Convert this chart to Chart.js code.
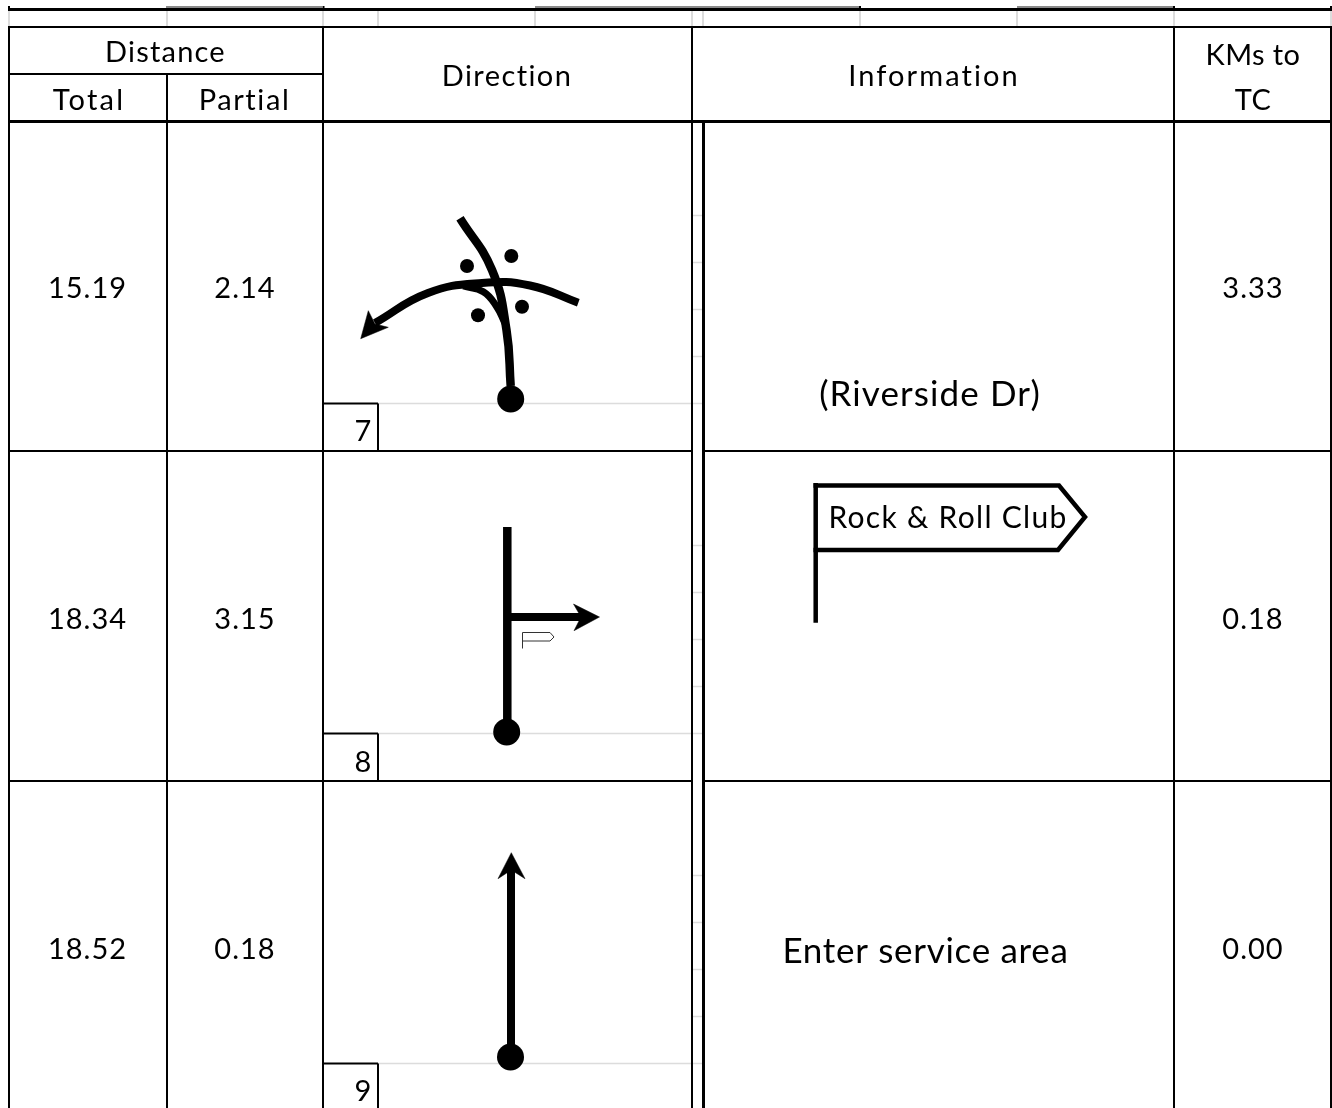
<!DOCTYPE html>
<html><head><meta charset="utf-8">
<style>html,body{margin:0;padding:0;background:#fff}canvas{display:block}</style>
<script src="https://cdn.jsdelivr.net/npm/chart.js@4/dist/chart.umd.min.js"></script>
</head><body><canvas id="c" width="1332" height="1108"></canvas>
<script>
// ---- values ----
const totalKm   = [15.19, 18.34, 18.52];
const partialKm = [2.14, 3.15, 0.18];
const kmsToTC   = [3.33, 0.18, 0.00];
const stepNo    = ['7', '8', '9'];
const infoNotes = ['(Riverside Dr)', '', 'Enter service area'];
const flagLabel = 'Rock & Roll Club';
const headers   = ['Distance', 'Total', 'Partial', 'Direction', 'Information', 'KMs to', 'TC'];

// ---- layout in axis units ----
const FONT = 'Lato, "Open Sans", sans-serif';
const rowMidY = [288.5, 619.5, 949.5];
const stepY = [432, 763, 1092];
const colMid = {total: 87.5, partial: 245, info: 933, kms: 1253};
const BLACK = '#000', LIGHT = '#dcdcdc', GRAY = '#8a8a8a';

const ds = [];
function line(pts, width, color, extra) {
  ds.push(Object.assign({
    data: pts.map(p => ({x: p[0], y: p[1]})),
    showLine: true, pointRadius: 0, borderWidth: width, borderColor: color || BLACK,
    borderCapStyle: 'butt', borderJoinStyle: 'miter', tension: 0, fill: false, clip: false,
    order: 5000 - ds.length
  }, extra || {}));
}
function curve(pts, width) { line(pts, width, BLACK, {tension: 0.45}); }
function poly(pts) { line(pts.concat([pts[0]]), 0.5, BLACK, {fill: 'shape', backgroundColor: BLACK}); }
function dots(pts, r) {
  ds.push({data: pts.map(p => ({x: p[0], y: p[1]})), showLine: false, pointRadius: r, pointHoverRadius: r,
    pointBorderWidth: 0, pointBackgroundColor: BLACK, clip: false, order: 5000 - ds.length});
}

// light spreadsheet gridlines above the table
[9, 167, 323, 378, 535, 692, 703, 860, 1017, 1174, 1331].forEach(x => line([[x, 10], [x, 27]], 2, LIGHT));
// thick grey selection bars on top line
[[166, 322], [535, 860], [1017, 1174]].forEach(s => line([[s[0], 7], [s[1], 7]], 2, GRAY));
// light lines in the rows
[403.5, 733.5, 1063.5].forEach(y => line([[378, y], [692, y]], 1.5, LIGHT));
[215.5, 262.5, 309.5, 356.5, 403.5, 545.5, 592.5, 639.5, 686.5, 733.5, 875.5, 922.5, 969.5, 1016.5, 1063.5]
  .forEach(y => line([[693, y], [703, y]], 1.5, LIGHT));

// black table rules
line([[8, 9.5], [1332, 9.5]], 3, BLACK);
[[9, 6, 10], [323.5, 6, 10], [860, 6, 10], [1174, 6, 10], [1331, 6, 10]].forEach(t => line([[t[0], t[1]], [t[0], t[2]]], 2, BLACK));
line([[8, 27], [1332, 27]], 2, BLACK);
line([[8, 74], [323, 74]], 2, BLACK);
line([[8, 121.5], [1332, 121.5]], 3, BLACK);
line([[8, 451], [692, 451]], 2, BLACK); line([[703, 451], [1332, 451]], 2, BLACK);
line([[8, 781], [692, 781]], 2, BLACK); line([[703, 781], [1332, 781]], 2, BLACK);
line([[9, 27], [9, 1108]], 2, BLACK);
line([[167, 74], [167, 1108]], 2, BLACK);
line([[323, 27], [323, 1108]], 2, BLACK);
line([[692, 27], [692, 1108]], 2, BLACK);
line([[703.5, 121], [703.5, 1108]], 3, BLACK);
line([[1174, 27], [1174, 1108]], 2, BLACK);
line([[1331, 27], [1331, 1108]], 2, BLACK);
// step number boxes
[[403.5, 451], [733.5, 781], [1063.5, 1108]].forEach(b => {
  line([[323, b[0]], [378, b[0]]], 2, BLACK);
  line([[378, b[0]], [378, b[1]]], 2, BLACK);
});

// step 7 : roundabout
curve([[510.7, 386], [506.5, 330], [492, 270], [460, 218.3]], 8.5);
curve([[578.3, 302.7], [530, 285.5], [482, 283], [428, 293], [375, 323]], 8);
curve([[463.3, 286], [483.3, 291.7], [496.7, 306.7], [505, 323.3]], 7);
poly([[360.7, 338.7], [368.3, 310.7], [375, 324], [388.3, 327.3]]);
dots([[467, 266], [511.3, 256], [522, 306.7], [478, 315.3]], 7);
dots([[510.7, 399]], 13.5);

// step 8 : side turn
line([[507.3, 527], [507.3, 725]], 8.5);
line([[510, 617], [582, 617]], 8);
poly([[599.5, 617], [573.5, 604], [581, 617], [574, 630.7]]);
dots([[506.7, 732]], 13.5);
line([[522.5, 648.5], [522.5, 632.5], [550, 632.5], [554, 637], [550, 641], [522.5, 641]], 1, '#333');
// flag sign
line([[815.7, 483], [815.7, 622.7]], 4.5);
line([[813.5, 485.5], [1059, 485.5], [1085, 517], [1058, 550], [813.5, 550]], 4.5);

// step 9 : straight on
line([[511, 868], [511, 1050]], 8);
poly([[511.3, 852.7], [498, 878.7], [511.3, 870], [525, 878.7]]);
dots([[510.5, 1057]], 13.5);

const textPlugin = {
  id: 'cellText',
  afterDatasetsDraw(chart) {
    const {ctx, scales: {x, y}} = chart;
    const put = (s, vx, vy, size, sp) => {
      if (!s) return;
      ctx.font = size + 'px ' + FONT;
      ctx.letterSpacing = (sp || 0) + 'px';
      ctx.fillStyle = '#000'; ctx.textAlign = 'center'; ctx.textBaseline = 'middle';
      ctx.fillText(s, x.getPixelForValue(vx), y.getPixelForValue(vy));
    };
    ctx.save();
    put(headers[0], 165.5, 53, 29, 1.2);
    put(headers[1], 89, 100.5, 29, 2.2);
    put(headers[2], 244.5, 100.5, 29, 1.6);
    put(headers[3], 507, 76.5, 29, 1.4);
    put(headers[4], 934, 76.5, 29, 2.1);
    put(headers[5], colMid.kms, 56, 29, 0.4);
    put(headers[6], colMid.kms, 101, 29, 0.4);
    rowMidY.forEach((my, i) => {
      put(totalKm[i].toFixed(2), colMid.total, my, 29, 1);
      put(partialKm[i].toFixed(2), colMid.partial, my, 29, 1);
      put(kmsToTC[i].toFixed(2), colMid.kms, my, 29, 1);
      put(stepNo[i], 363, stepY[i], 29);
    });
    put(infoNotes[0], 930, 394.5, 35, 1.1);
    put(infoNotes[2], 925.5, 951.5, 35, 0.7);
    put(flagLabel, 948, 518, 30, 1.3);
    ctx.restore();
  }
};

new Chart(document.getElementById('c'), {
  type: 'scatter',
  data: {datasets: ds},
  options: {
    responsive: false, animation: false, events: [],
    layout: {padding: 0, autoPadding: false},
    plugins: {legend: {display: false}, tooltip: {enabled: false}},
    scales: {
      x: {type: 'linear', min: 0, max: 1332, display: false},
      y: {type: 'linear', min: 0, max: 1108, reverse: true, display: false}
    }
  },
  plugins: [textPlugin]
});
</script></body></html>
